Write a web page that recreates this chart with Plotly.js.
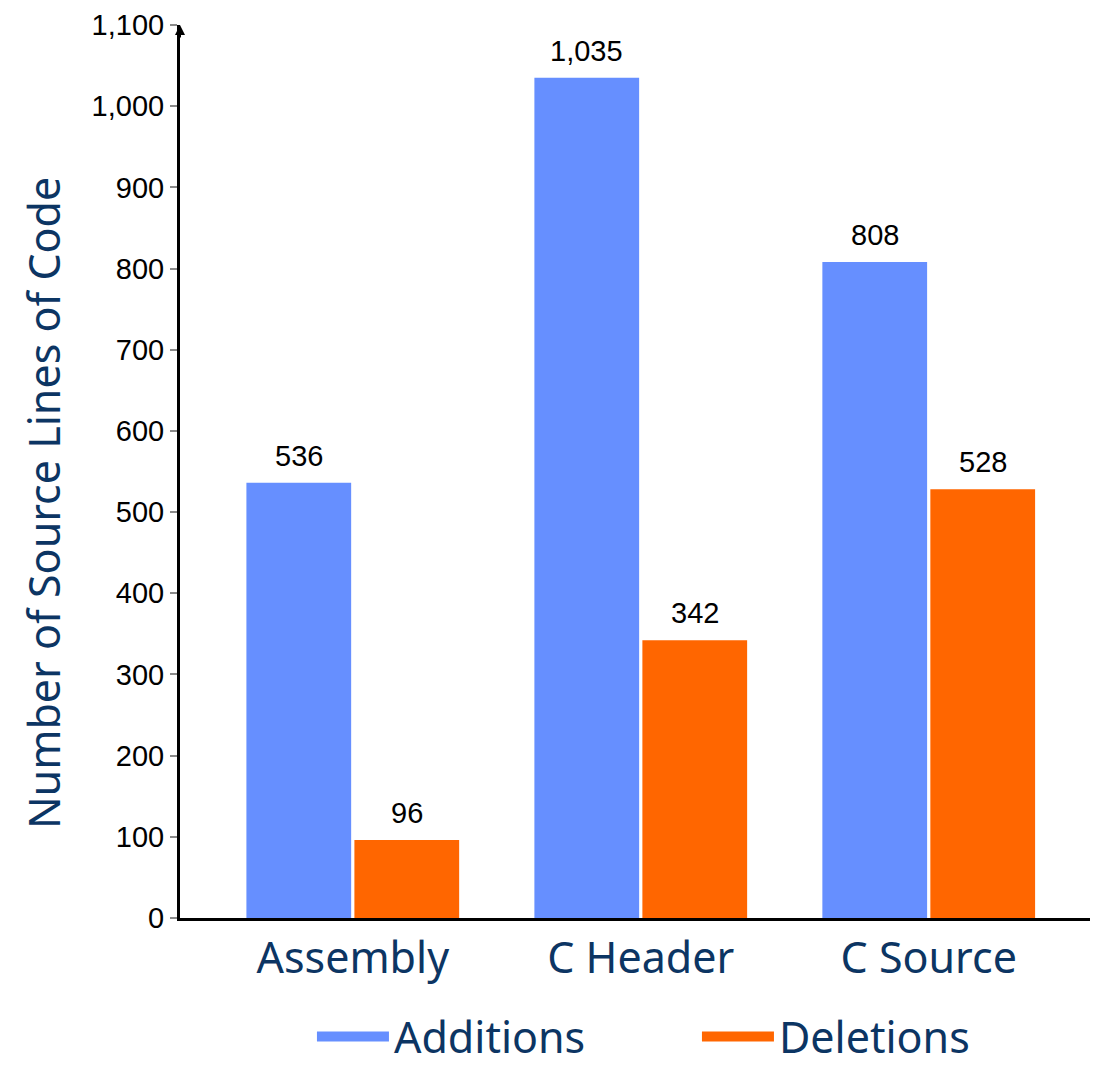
<!DOCTYPE html>
<html>
<head>
<meta charset="utf-8">
<script src="https://cdn.plot.ly/plotly-3.0.1.min.js"></script>
<style>
  html, body { margin: 0; padding: 0; background: #ffffff; }
  #chart { width: 1105px; height: 1067px; }
</style>
</head>
<body>
<div id="chart"></div>
<script>
// File types touched by the change set
const categories = ['Assembly', 'C Header', 'C Source'];
// Source lines of code added / removed per file type
const additions = [536, 1035, 808];
const deletions = [96, 342, 528];
const seriesNames = ['Additions', 'Deletions'];
// Y axis tick values
const yTicks = [0, 100, 200, 300, 400, 500, 600, 700, 800, 900, 1000, 1100];

const NAVY = '#0c3563';
const BLUE = '#668fff';
const ORANGE = '#ff6600';
const fmt = v => v.toLocaleString('en-US');

const labelFont = { family: 'Liberation Sans, Arial, sans-serif', size: 29, color: '#000000' };
const textFont = { family: 'Noto Sans, Open Sans, sans-serif', size: 43, color: NAVY };

const BARGAP = 0.25;
// centre of each bar within its category slot (two bars per group)
const slotOffset = (1 - BARGAP) / 4;

const traces = [
  {
    type: 'bar', name: seriesNames[0], x: categories, y: additions,
    marker: { color: BLUE }, showlegend: false, hoverinfo: 'x+y'
  },
  {
    type: 'bar', name: seriesNames[1], x: categories, y: deletions,
    marker: { color: ORANGE }, showlegend: false, hoverinfo: 'x+y'
  },
  // legend swatches drawn as wide bands
  { type: 'scatter', mode: 'lines', name: seriesNames[0], x: [null], y: [null],
    line: { color: BLUE, width: 16 }, showlegend: true },
  { type: 'scatter', mode: 'lines', name: seriesNames[1], x: [null], y: [null],
    line: { color: ORANGE, width: 16 }, showlegend: true }
];

// value labels sitting above each bar
const valueLabels = [];
[additions, deletions].forEach((series, s) => {
  series.forEach((v, i) => {
    valueLabels.push({
      text: fmt(v), showarrow: false,
      xref: 'x', yref: 'y', x: i + (s === 0 ? -slotOffset : slotOffset), y: v,
      xanchor: 'center', yanchor: 'bottom', yshift: 9,
      font: labelFont
    });
  });
});

const layout = {
  width: 1105, height: 1067,
  margin: { l: 180, r: 15, t: 25, b: 149, autoexpand: false },
  paper_bgcolor: '#ffffff', plot_bgcolor: '#ffffff',
  barmode: 'group', bargap: BARGAP, bargroupgap: 0.03,
  xaxis: {
    type: 'category', categoryarray: categories, categoryorder: 'array',
    range: [-0.6, 2.56],
    showline: true, linecolor: '#000000', linewidth: 3,
    ticks: '', showgrid: false, zeroline: false,
    tickfont: textFont,
    ticklabelstandoff: 0
  },
  yaxis: {
    range: [0, 1100], tickvals: yTicks, ticktext: yTicks.map(fmt),
    ticks: 'outside', ticklen: 7, tickwidth: 2, tickcolor: '#8a8a8a',
    showline: true, linecolor: '#000000', linewidth: 3,
    showgrid: false, zeroline: false,
    tickfont: labelFont
  },
  yaxis2: {
    overlaying: 'y', matches: 'y', range: [0, 1100], tickvals: yTicks,
    ticks: 'inside', ticklen: 7, tickwidth: 2, tickcolor: '#8a8a8a',
    showticklabels: false, showline: false, showgrid: false, zeroline: false
  },
  legend: {
    orientation: 'h', x: 0.145, xanchor: 'left', y: -0.1715, yanchor: 'bottom',
    itemwidth: 72, entrywidth: 298, entrywidthmode: 'pixels',
    font: textFont,
    bgcolor: 'rgba(0,0,0,0)'
  },
  annotations: [
    {
      text: 'Number of Source Lines of Code', textangle: -90, showarrow: false,
      xref: 'paper', yref: 'paper', x: -0.1505, y: 0.4647,
      xanchor: 'center', yanchor: 'middle',
      font: textFont
    },
    {
      // arrowhead on top of the value axis
      text: '', showarrow: true, xref: 'paper', yref: 'y', x: 0, y: 1100,
      axref: 'pixel', ayref: 'pixel', ax: 0, ay: 14,
      arrowhead: 2, arrowsize: 1, arrowwidth: 2, arrowcolor: '#000000'
    }
  ].concat(valueLabels)
};

Plotly.newPlot('chart', traces, layout, { displayModeBar: false, staticPlot: true });
</script>
</body>
</html>
